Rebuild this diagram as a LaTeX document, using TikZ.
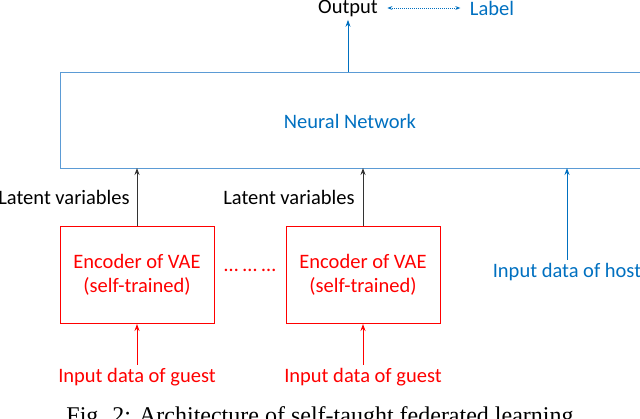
\documentclass[tikz,border=0pt]{standalone}
\usepackage{fontspec}
\usetikzlibrary{arrows.meta}
\setmainfont{Carlito}
\newfontfamily\capfont{Liberation Serif}
\definecolor{nblue}{RGB}{0,112,192}
\definecolor{lblue}{RGB}{91,155,213}
\begin{document}
\begin{tikzpicture}[x=1pt,y=-1pt,font=\fontsize{20.5}{24}\selectfont,
  arr/.style={-{Stealth[length=7pt,width=5pt]},line width=1pt},
  enc/.style={draw=red,text=red,minimum width=154pt,minimum height=97pt,align=center,line width=1pt}]
\useasboundingbox (0,0) rectangle (640,418);
\node[draw=lblue,line width=1pt,minimum width=582pt,minimum height=96pt,anchor=north west,text=nblue] (nn) at (60,72) {};
\node[text=nblue] (nnl) at (350,121) {Neural Network};
\node (out) at (348,8) {Output};
\node[text=nblue] (lab) at (492,8) {Label};
\coordinate (outb) at (348,72);
\draw[arr,nblue] (outb) -- (out.south);
\draw[{Stealth[length=5pt]}-{Stealth[length=5pt]},nblue,densely dotted,line width=1pt] ([xshift=6pt]out.east) -- ([xshift=-6pt]lab.west);
\node[enc] (e1) at (137,275) {Encoder of VAE\\(self-trained)};
\node[enc] (e2) at (363,275) {Encoder of VAE\\(self-trained)};
\node[text=red] (dots) at (250,270) {\dots\ \dots\ \dots};
\coordinate (t1) at (137,168);
\coordinate (t2) at (363,168);
\draw[arr,black!80] (e1.north) -- (t1);
\draw[arr,black!80] (e2.north) -- (t2);
\node (l1) at (64,197) {Latent variables};
\node (l2) at (289,197) {Latent variables};
\node[text=red] (g1) at (137,377) {Input data of guest};
\node[text=red] (g2) at (363,377) {Input data of guest};
\draw[arr,red] (g1.north) -- (e1.south);
\draw[arr,red] (g2.north) -- (e2.south);
\node[text=nblue] (h) at (567,272) {Input data of host};
\coordinate (t3) at (567,168);
\draw[arr,nblue] (h.north) -- (t3);
\node[font=\capfont\fontsize{24}{26}\selectfont] (cap) at (320,418) {Fig. 2: Architecture of self-taught federated learning};
\end{tikzpicture}
\end{document}
